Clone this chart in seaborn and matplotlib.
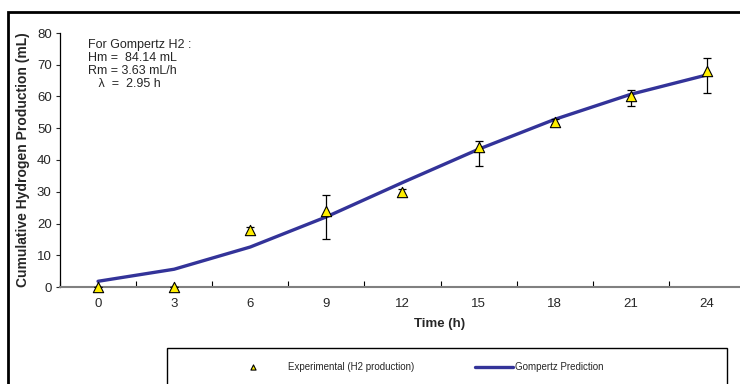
import matplotlib
matplotlib.use("Agg")
import matplotlib.pyplot as plt
import seaborn as sns
import pandas as pd
import numpy as np
from matplotlib.patches import Rectangle

# data
time_labels = ["0", "3", "6", "9", "12", "15", "18", "21", "24"]
h2_exp = [0.0, 0.0, 18.0, 24.0, 30.0, 44.0, 52.0, 60.0, 68.0]
err_low = [0.0, 0.0, 1.0, 9.0, 1.0, 6.0, 0.8, 3.0, 7.0]
err_high = [0.0, 0.0, 1.0, 5.0, 1.0, 2.0, 0.8, 2.0, 4.0]
gompertz = [1.8, 5.6, 12.6, 22.1, 32.9, 43.4, 52.8, 60.7, 66.8]

df = pd.DataFrame({"pos": np.arange(len(time_labels)), "exp": h2_exp, "fit": gompertz})

sns.set_style("white")
plt.rcParams['font.family'] = ['Liberation Sans', 'DejaVu Sans']

fig = plt.figure(figsize=(7.4, 3.84), dpi=100)
ax = fig.add_axes([60/740, 1-287/384, 685/740, (287-33)/384])

sns.lineplot(data=df, x="pos", y="fit", ax=ax, color="#333399", lw=2.4,
             label="Gompertz Prediction", zorder=2, legend=False)
ax.errorbar(df["pos"], df["exp"], yerr=[err_low, err_high], fmt="none",
            ecolor="black", elinewidth=0.9, capsize=3, capthick=0.9, zorder=3)
sns.scatterplot(data=df, x="pos", y="exp", ax=ax, marker="^", s=55,
                color="#FFEE00", edgecolor="black", linewidth=0.8,
                label="Experimental (H2 production)", zorder=4, legend=False, clip_on=False)

ax.set_xlim(-0.5, 8.5)
ax.set_ylim(0, 80)
ax.set_yticks(range(0, 81, 10))
ax.tick_params(axis="y", labelsize=9.5, direction="out", length=3, width=0.8, pad=3, left=True)
ax.set_xticks(np.arange(len(time_labels)))
ax.set_xticklabels(time_labels)
ax.set_xticks(np.arange(-0.5, 8.6, 1), minor=True)
ax.tick_params(axis="x", which="major", length=0, labelsize=9.5, pad=8)
ax.tick_params(axis="x", which="minor", direction="in", length=4, width=0.8, color="black", bottom=True)

for s in ["top", "right"]:
    ax.spines[s].set_visible(False)
ax.spines["left"].set_color("black")
ax.spines["left"].set_linewidth(0.9)
ax.spines["bottom"].set_color("#808080")
ax.spines["bottom"].set_linewidth(1.5)

ax.set_xlabel("")
ax.set_ylabel("Cumulative Hydrogen Production (mL)", fontsize=10, fontweight="bold", labelpad=5)
fig.text(440/740, 1-324/384, "Time (h)", fontsize=9.5, fontweight="bold", ha="center", va="center")

ax.text(88/740, 1-39/384, "For Gompertz H2 :\nHm =  84.14 mL\nRm = 3.63 mL/h\n   λ  =  2.95 h",
        transform=fig.transFigure, fontsize=9, va="top", ha="left", linespacing=1.1)

# outer chart border
fig.patches.append(Rectangle((8/740, -0.1), 1.0, 1-12/384+0.1, transform=fig.transFigure,
                             fill=False, edgecolor="black", lw=2, clip_on=False))
# legend box
fig.patches.append(Rectangle((167/740, -0.1), 560/740, 0.1+1-348/384, transform=fig.transFigure,
                             fill=False, edgecolor="black", lw=1, clip_on=False))

h, l = ax.get_legend_handles_labels()
hmap = dict(zip(l, h))
leg1 = fig.legend([hmap["Experimental (H2 production)"]], ["Experimental (H2 production)"],
                  loc="center left", bbox_to_anchor=(239/740, 1-367/384), frameon=False,
                  fontsize=7, handlelength=1.0, handletextpad=3.1, markerscale=0.5)
leg2 = fig.legend([hmap["Gompertz Prediction"]], ["Gompertz Prediction"],
                  loc="center left", bbox_to_anchor=(466/740, 1-367/384), frameon=False,
                  fontsize=7, handlelength=3.9, handletextpad=0.2)

fig.savefig("out.png", dpi=100)
